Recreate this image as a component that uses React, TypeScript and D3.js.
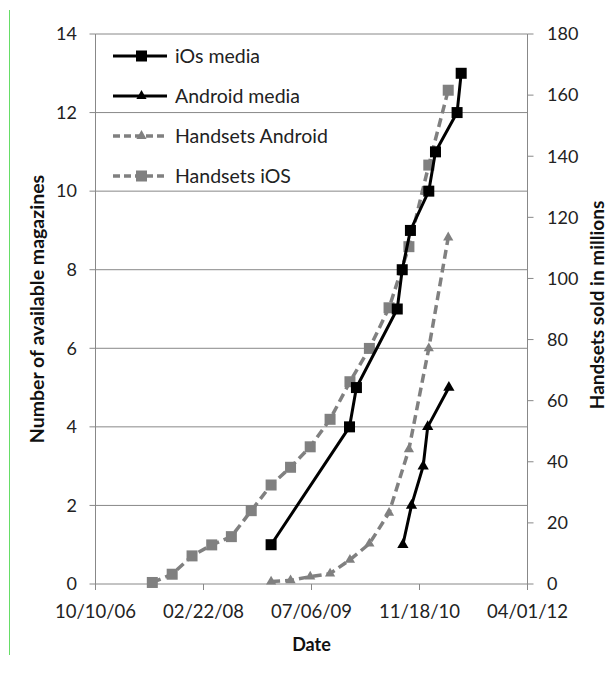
import React from "react";
import * as d3 from "d3";

const iosMediaDates = ["2008-12-31","2009-12-29","2010-01-30","2010-08-07","2010-08-30","2010-10-07","2010-12-31","2011-01-31","2011-05-11","2011-05-30"];
const iosMediaValues = [1,4,5,7,8,9,10,11,12,13];

const androidMediaDates = ["2010-09-02","2010-10-12","2010-12-05","2010-12-26","2011-04-03"];
const androidMediaValues = [1,2,3,4,5];

const handsetsIosDates = ["2007-06-30","2007-09-30","2007-12-31","2008-03-31","2008-06-30","2008-09-30","2008-12-31","2009-03-31","2009-06-30","2009-09-30","2009-12-31","2010-03-31","2010-06-30","2010-09-30","2010-12-31","2011-03-31"];
const handsetsIosValues = [0.5,3.2,9.2,12.8,15.5,24.0,32.4,38.2,44.9,53.9,66.2,77.1,90.4,110.4,137.1,161.6];

const handsetsAndroidDates = ["2008-12-31","2009-03-31","2009-06-30","2009-09-30","2009-12-31","2010-03-31","2010-06-30","2010-09-30","2010-12-31","2011-03-31"];
const handsetsAndroidValues = [0.8,1.2,2.4,3.4,7.9,13.2,23.3,44.1,77.1,113.4];

const xTickDates = ["2006-10-10","2008-02-22","2009-07-06","2010-11-18","2012-04-01"];
const leftTicks = [0,2,4,6,8,10,12,14];
const rightTicks = [0,20,40,60,80,100,120,140,160,180];

const legendLabels = ["iOs media","Android media","Handsets Android","Handsets iOS"];

const parse = d3.timeParse("%Y-%m-%d");
const fmt = d3.timeFormat("%m/%d/%y");

const FONT = "Lato, 'Open Sans', sans-serif";
const GRID = "#888888";
const GRAY = "#808080";

export default function App() {
  const left = 95.5, right = 527.5, top = 34, bottom = 584;
  const x = d3.scaleTime().domain([parse(xTickDates[0])!, parse(xTickDates[4])!]).range([left, right]);
  const yL = d3.scaleLinear().domain([0, 14]).range([bottom, top]);
  const yR = d3.scaleLinear().domain([0, 180]).range([bottom, top]);

  const mk = (dates: string[], vals: number[]) => dates.map((d, i) => ({ d: parse(d)!, v: vals[i] }));
  const iosM = mk(iosMediaDates, iosMediaValues);
  const andM = mk(androidMediaDates, androidMediaValues);
  const iosH = mk(handsetsIosDates, handsetsIosValues);
  const andH = mk(handsetsAndroidDates, handsetsAndroidValues);

  const lineL = d3.line<{ d: Date; v: number }>().x(p => x(p.d)).y(p => yL(p.v));
  const lineR = d3.line<{ d: Date; v: number }>().x(p => x(p.d)).y(p => yR(p.v));
  const tri = d3.symbol(d3.symbolTriangle, 55)()!;
  const triSmall = d3.symbol(d3.symbolTriangle, 45)()!;

  const dash = "9,5";

  return (
    <svg width={607} height={684} style={{ position: "absolute", left: 0, top: 0, background: "#fff" }} fontFamily={FONT}>
      <rect width={607} height={684} fill="#fff" />
      <line x1={9.5} x2={9.5} y1={10} y2={655} stroke="#66dd66" strokeWidth={1} />
      {leftTicks.map(t => (
        <line key={"g" + t} x1={left} x2={right} y1={yL(t)} y2={yL(t)} stroke={GRID} strokeWidth={1} />
      ))}
      <line x1={left} x2={left} y1={top} y2={bottom} stroke={GRID} />
      {leftTicks.map(t => (
        <g key={"l" + t}>
          <line x1={left - 6} x2={left} y1={yL(t)} y2={yL(t)} stroke={GRID} />
          <text x={77} y={yL(t)} dy="0.35em" textAnchor="end" fontSize={18} fill="#222">{t}</text>
        </g>
      ))}
      <line x1={right} x2={right} y1={top} y2={bottom} stroke={GRID} />
      {rightTicks.map(t => (
        <g key={"r" + t}>
          <line x1={right} x2={right + 6} y1={yR(t)} y2={yR(t)} stroke={GRID} />
          <text x={547} y={yR(t)} dy="0.35em" textAnchor="start" fontSize={18} fill="#222">{t}</text>
        </g>
      ))}
      {xTickDates.map(s => {
        const d = parse(s)!;
        return (
          <g key={s}>
            <line x1={x(d)} x2={x(d)} y1={bottom} y2={bottom + 6} stroke={GRID} />
            <text x={x(d)} y={612} dy="0.35em" textAnchor="middle" fontSize={18.5} fill="#222">{fmt(d)}</text>
          </g>
        );
      })}
      <text x={(left + right) / 2} y={645} dy="0.35em" textAnchor="middle" fontSize={18} fontWeight="bold" fill="#111">Date</text>
      <text transform={`translate(37,${(top + bottom) / 2}) rotate(-90)`} dy="0.35em" textAnchor="middle" fontSize={19.5} fontWeight="bold" fill="#111">Number of available magazines</text>
      <text transform={`translate(597,305) rotate(-90)`} dy="0.35em" textAnchor="middle" fontSize={19} fontWeight="bold" fill="#111">Handsets sold in millions</text>

      <path d={lineR(andH)!} fill="none" stroke={GRAY} strokeWidth={3.5} strokeDasharray={dash} />
      {andH.map((p, i) => (
        <path key={"ah" + i} d={triSmall} transform={`translate(${x(p.d)},${yR(p.v)})`} fill={GRAY} />
      ))}
      <path d={lineR(iosH)!} fill="none" stroke={GRAY} strokeWidth={3.5} strokeDasharray={dash} />
      {iosH.map((p, i) => (
        <rect key={"ih" + i} x={x(p.d) - 5.5} y={yR(p.v) - 5.5} width={11} height={11} fill={GRAY} />
      ))}
      <path d={lineL(iosM)!} fill="none" stroke="#000" strokeWidth={3} />
      {iosM.map((p, i) => (
        <rect key={"im" + i} x={x(p.d) - 5.5} y={yL(p.v) - 5.5} width={11} height={11} fill="#000" />
      ))}
      <path d={lineL(andM)!} fill="none" stroke="#000" strokeWidth={3} />
      {andM.map((p, i) => (
        <path key={"am" + i} d={tri} transform={`translate(${x(p.d)},${yL(p.v)})`} fill="#000" />
      ))}

      {legendLabels.map((lab, i) => {
        const cy = 56 + i * 40;
        const isDash = i >= 2;
        const col = isDash ? GRAY : "#000";
        return (
          <g key={lab}>
            <line x1={113} x2={167} y1={cy} y2={cy} stroke={col} strokeWidth={isDash ? 3.5 : 3} strokeDasharray={isDash ? "7,4" : undefined} />
            {i === 0 && <rect x={136} y={cy - 5.5} width={11} height={11} fill="#000" />}
            {i === 1 && <path d={triSmall} transform={`translate(141.5,${cy})`} fill="#000" />}
            {i === 2 && <path d={triSmall} transform={`translate(141.5,${cy})`} fill={GRAY} />}
            {i === 3 && <rect x={136} y={cy - 5.5} width={11} height={11} fill={GRAY} />}
            <text x={175} y={cy} dy="0.35em" fontSize={19.5} fill="#222">{lab}</text>
          </g>
        );
      })}
    </svg>
  );
}
